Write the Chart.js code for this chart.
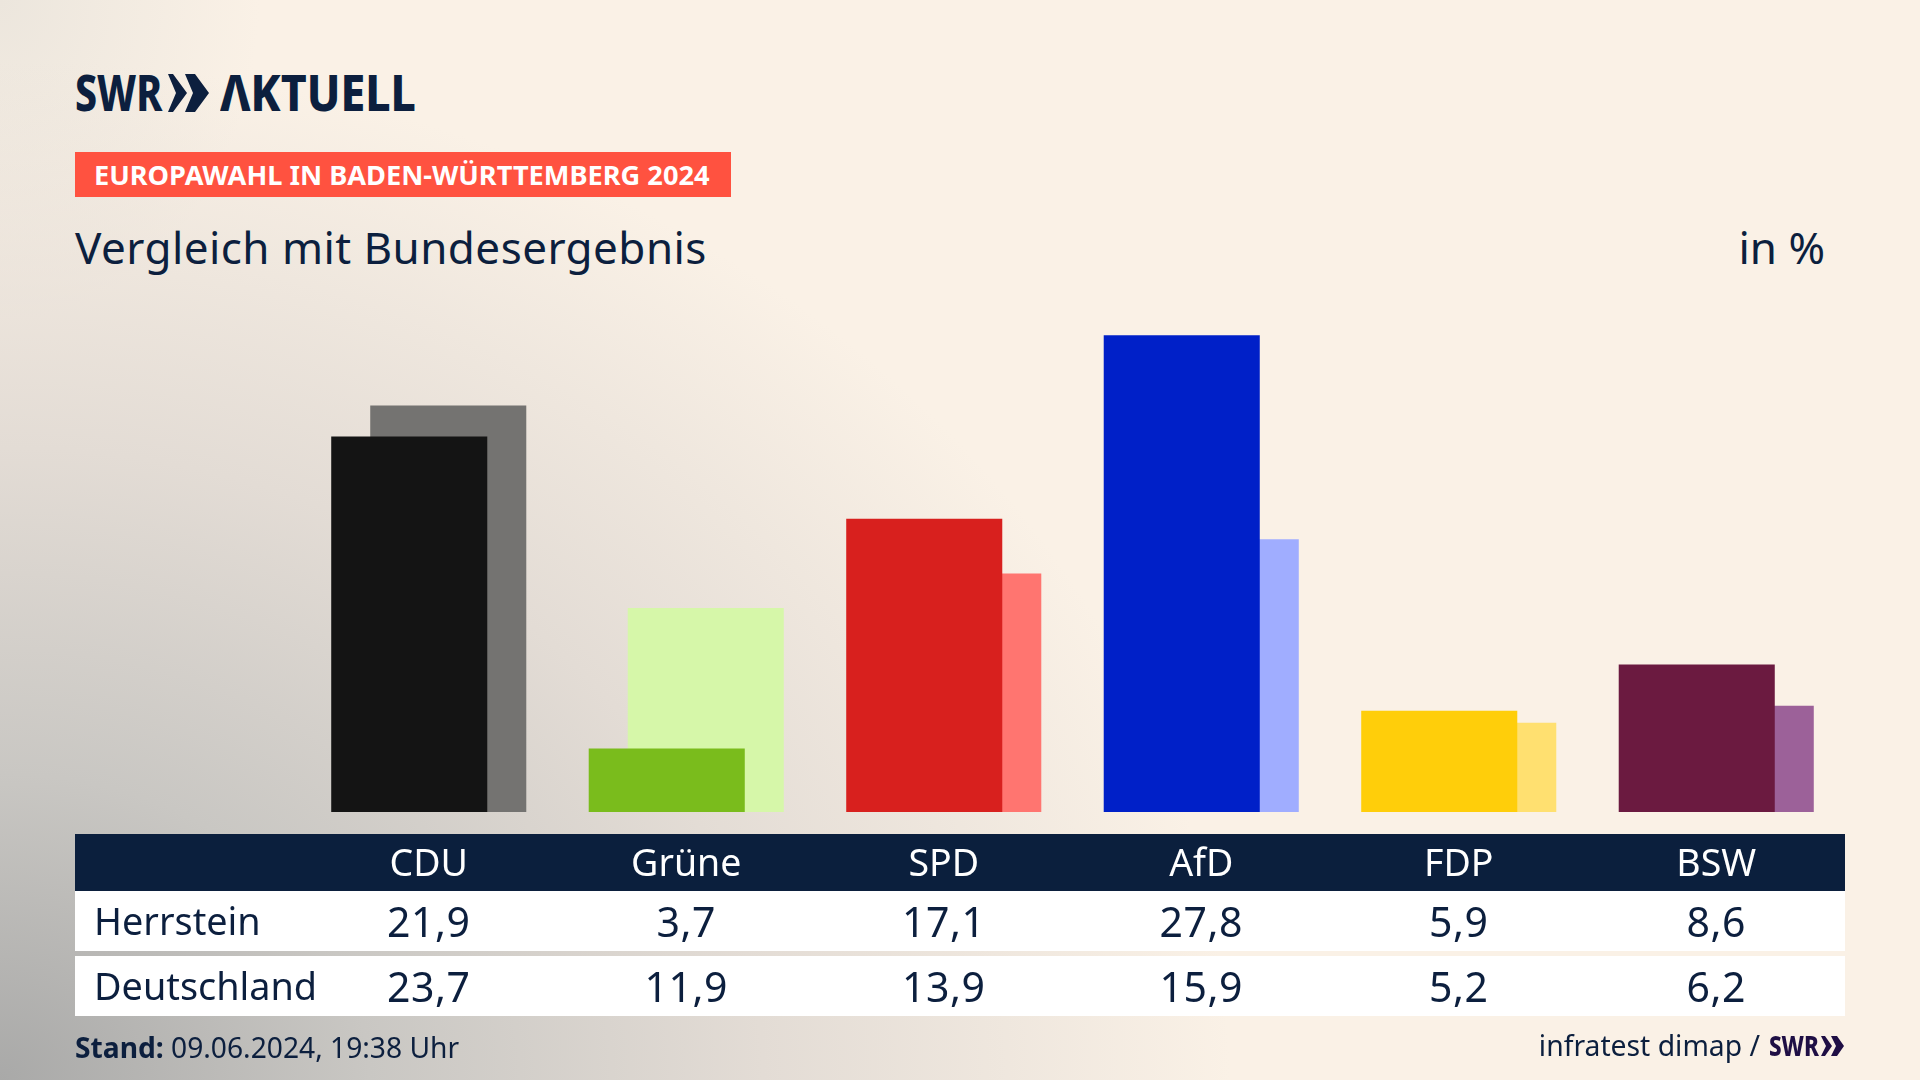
<!DOCTYPE html>
<html lang="de">
<head>
<meta charset="utf-8">
<title>Europawahl in Baden-Württemberg 2024</title>
<script src="https://cdn.jsdelivr.net/npm/chart.js@4"></script>
<style>
    html, body { margin: 0; padding: 0; width: 1920px; height: 1080px; overflow: hidden; }
    body {
        position: relative;
        color: #0c1f3e;
        font-family: "Noto Sans", sans-serif;
        background:
            radial-gradient(ellipse 1230px 1020px at 0 100%, #a9a9a8 0%, #c9c7c3 30%, #e3dcd5 62%, rgba(250,241,230,0) 100%),
            radial-gradient(ellipse 260px 320px at 0 0, #ece6dd 0%, rgba(250,241,230,0) 100%),
            #faf1e6;
    }
    #myChart { position: absolute; left: 0; top: 0; }
    .abs { position: absolute; white-space: nowrap; }
    .logo { font-weight: 800; font-size: 49px; line-height: 48px; transform-origin: left center; }
    #banner { left: 75px; top: 152px; width: 656px; height: 45px; background: #ff5240; }
    #bannerText { left: 94px; top: 152px; line-height: 45px; font-size: 27.2px; font-weight: 700; color: #fff; }
    #title { left: 75px; top: 217px; font-size: 44px; line-height: 60px; letter-spacing: 0.45px; }
    #unit { right: 95px; top: 217px; font-size: 44px; line-height: 60px; }
    #band { left: 75px; top: 834px; width: 1770px; height: 57px; background: #0b1f3d; }
    .row { left: 75px; width: 1770px; height: 60px; background: #fff; }
    .rowLabel { left: 94px; font-size: 37.8px; line-height: 60px; }
    .cell { font-size: 41px; line-height: 60px; letter-spacing: 0.6px; transform: translateX(-50%); }
    #stand { left: 75px; top: 1028px; font-size: 28.2px; line-height: 38px; }
    #source { right: 160px; top: 1026px; font-size: 28.3px; line-height: 38px; }
    #sourceLogo { left: 1769px; top: 1026px; font-size: 28px; line-height: 38px; font-weight: 800; color: #1f0f45; transform: scaleX(0.8); transform-origin: left center; }
</style>
</head>
<body>
<div class="abs logo" id="logoSwr" style="left:75px;top:68px;transform:scaleX(0.8)">SWR</div>
<svg class="abs" style="left:168px;top:74px" width="42" height="38" viewBox="0 0 42 38">
    <polygon fill="#0c1f3e" points="0,0 8,19 0,38 5,38 19,19 5,0"/>
    <polygon fill="#0c1f3e" points="17,0 25,19 17,38 27,38 41,19 27,0"/>
</svg>
<div class="abs logo" id="logoAktuell" style="left:220px;top:68px;transform:scaleX(0.91)">ΛKTUELL</div>
<div class="abs" id="banner"></div>
<div class="abs" id="bannerText">EUROPAWAHL IN BADEN-WÜRTTEMBERG 2024</div>
<div class="abs" id="title">Vergleich mit Bundesergebnis</div>
<div class="abs" id="unit">in %</div>
<div class="abs" id="band"></div>
<div class="abs row" style="top:891px"></div>
<div class="abs row" style="top:956px"></div>
<canvas id="myChart" width="1920" height="1080"></canvas>
<div class="abs" id="stand"><b>Stand:</b> 09.06.2024, 19:38 Uhr</div>
<div class="abs" id="source">infratest dimap /</div>
<div class="abs" id="sourceLogo">SWR</div>
<svg class="abs" style="left:1821px;top:1036px" width="24" height="20" viewBox="0 0 24 20">
    <polygon fill="#1f0f45" points="0,0 5,10 0,20 4,20 11,10 4,0"/>
    <polygon fill="#1f0f45" points="10,0 15,10 10,20 16,20 23,10 16,0"/>
</svg>

<script>
const parties = ['CDU', 'Grüne', 'SPD', 'AfD', 'FDP', 'BSW'];
const herrstein = [21.9, 3.7, 17.1, 27.8, 5.9, 8.6];
const deutschland = [23.7, 11.9, 13.9, 15.9, 5.2, 6.2];
const rowNames = ['Herrstein', 'Deutschland'];
const frontColors = ['#141414', '#7abc1c', '#d8201e', '#0020c8', '#ffce0a', '#6b1a40'];
const rearColors = ['#747371', '#d6f7a9', '#ff7570', '#a0adff', '#ffe070', '#9c6199'];

let myChart = null;

function initChart() {
    const ctx = document.getElementById('myChart').getContext('2d');
    myChart = new Chart(ctx, {
        type: 'bar',
        data: {
            labels: parties,
            datasets: [{
                label: rowNames[0],
                data: herrstein,
                backgroundColor: frontColors
            }, {
                label: rowNames[1],
                data: deutschland,
                backgroundColor: rearColors
            }]
        },
        options: {
            responsive: false,
            animation: false,
            devicePixelRatio: 1,
            // bars wider than their slot, so each pair overlaps
            categoryPercentage: 0.303,
            barPercentage: 4,
            layout: { padding: { left: 300, right: 75, top: 297.5, bottom: 0 } },
            plugins: { legend: { display: false }, tooltip: { enabled: false } },
            scales: {
                x: {
                    grid: { display: false, drawTicks: false },
                    border: { display: false },
                    afterFit: (scale) => { scale.height = 268; },
                    ticks: {
                        color: '#ffffff',
                        padding: 31,
                        maxRotation: 0,
                        autoSkip: false,
                        font: { family: '"Noto Sans"', size: 37.5 }
                    }
                },
                y: { display: false, min: 0, max: 30 }
            }
        }
    });
}

function fillTable() {
    const rows = [herrstein, deutschland];
    const tops = [891, 956];
    rows.forEach((values, r) => {
        const name = document.createElement('div');
        name.className = 'abs rowLabel';
        name.style.top = tops[r] + 'px';
        name.textContent = rowNames[r];
        document.body.appendChild(name);
        values.forEach((v, i) => {
            const cell = document.createElement('div');
            cell.className = 'abs cell';
            cell.style.top = tops[r] + 'px';
            cell.style.left = myChart.scales.x.getPixelForValue(i) + 'px';
            cell.textContent = v.toFixed(1).replace('.', ',');
            document.body.appendChild(cell);
        });
    });
}

initChart();
fillTable();
</script>
</body>
</html>
